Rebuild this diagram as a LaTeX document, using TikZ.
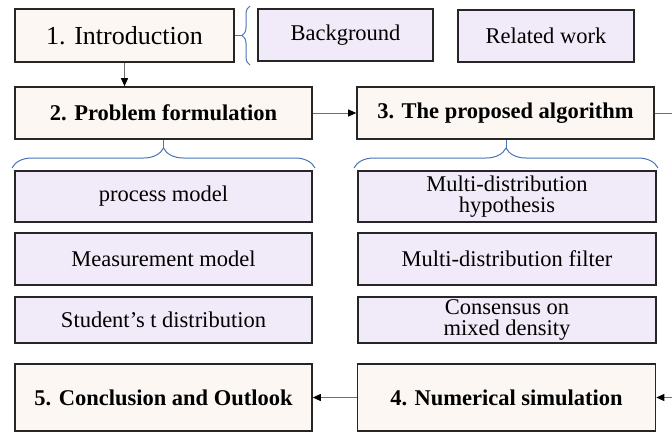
\documentclass[tikz,border=0pt]{standalone}
\usepackage{fontspec}
\setmainfont{Liberation Serif}
\usepackage{xcolor}
\usetikzlibrary{arrows.meta,decorations.pathreplacing}
\definecolor{chapfill}{HTML}{FCF7F2}
\definecolor{subfill}{HTML}{F1EAF8}
\definecolor{bracecol}{HTML}{4A72B8}
\definecolor{linkcol}{HTML}{707070}

\begin{document}
\begin{tikzpicture}[x=1pt,y=-1pt,
    chap/.style={draw=black!85,line width=1.6pt,fill=chapfill,inner sep=0pt,align=center,
        font=\fontsize{22.5}{21}\selectfont\bfseries,minimum width=297pt,minimum height=52pt},
    sub/.style={draw=black!85,line width=1.6pt,fill=subfill,inner sep=0pt,align=center,
        font=\fontsize{22.5}{21}\selectfont,minimum width=297pt,minimum height=51pt},
    link/.style={draw=linkcol,line width=0.9pt,-{Triangle[length=8pt,width=7pt,black]}},
    grp/.style={draw=bracecol,line width=1pt,decorate,decoration={brace,amplitude=#1}}]
    \useasboundingbox (0,0) rectangle (672,432);
		\node[chap,font=\fontsize{26}{26}\selectfont,minimum width=219pt,minimum height=53pt] (intro) at (124.5,35.5) {1. Introduction};
		\node[sub,minimum width=175pt,minimum height=52pt] (backgr) at (345.5,35) {Background};
		\node[sub,minimum width=176pt,minimum height=52pt] (related) at (546,36) {Related work};
		\node[chap] (problem) at (163.5,113) {2. Problem formulation};
		\node[chap] (algo) at (505.5,113) {3. The proposed algorithm};
		\node[sub] (process) at (163.5,196.5) {process model};
		\node[sub,minimum height=52pt] (measure) at (163.5,259) {Measurement model};
		\node[sub,minimum height=46pt] (student) at (163.5,320) {Student’s t distribution};
		\node[sub,minimum width=298pt] (hypo) at (507,196.5) {Multi-distribution\\hypothesis};
		\node[sub,minimum width=298pt,minimum height=52pt] (filter) at (507,259) {Multi-distribution filter};
		\node[sub,minimum width=298pt,minimum height=46pt] (consensus) at (507,320) {Consensus on\\mixed density};
		\node[chap,minimum height=67pt] (concl) at (163.5,397.5) {5. Conclusion and Outlook};
		\node[chap,minimum width=298pt,minimum height=67pt] (numsim) at (506.5,397.5) {4. Numerical simulation};
		\coordinate (introtip) at (242,35.5);
		\coordinate (probtip) at (163.5,148);
		\coordinate (algotip) at (506.5,148);
		\coordinate (outr) at (700,113);
		\coordinate (inr) at (700,397.5);
		\draw[grp=8pt] (250,65) -- (250,6);
		\draw[bracecol,line width=1pt] (intro.east) -- (introtip);
		\draw[grp=20pt] (12,168) -- (315,168);
		\draw[bracecol,line width=1pt] (problem.south) -- (probtip);
		\draw[grp=20pt] (354,168) -- (658,168);
		\draw[bracecol,line width=1pt] (algo.south -| algotip) -- (algotip);
		\draw[link] (intro.south) -- (intro.south |- problem.north);
		\draw[link] (problem.east) -- (algo.west);
		\draw[link] (algo.east) -- (outr) -- (inr) -- (numsim.east);
		\draw[link] (numsim.west) -- (concl.east);
	\end{tikzpicture}
\end{document}
